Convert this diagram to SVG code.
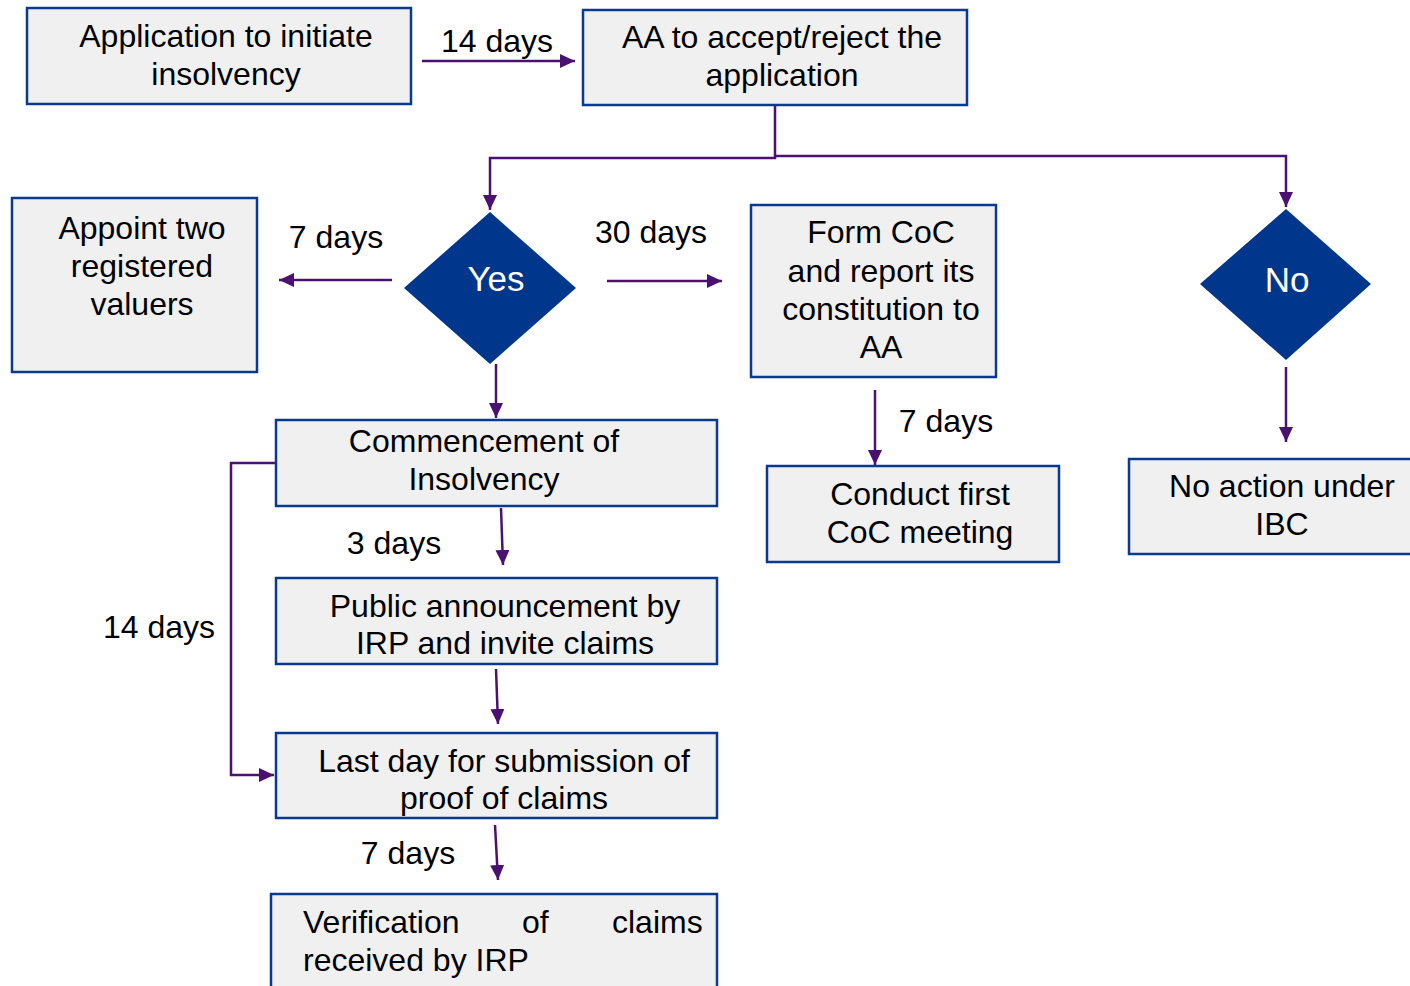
<svg xmlns="http://www.w3.org/2000/svg" width="1410" height="986" viewBox="0 0 1410 986">
<style>
  .box { fill: #f0f0f0; stroke: #0a3a8f; stroke-width: 2.5; }
  .dia { fill: #00368c; stroke: none; }
  .t { font-family: "Liberation Sans", Arial, sans-serif; font-size: 32px; fill: #000; text-anchor: middle; }
  .tl { font-family: "Liberation Sans", Arial, sans-serif; font-size: 32px; fill: #000; }
  .w { font-family: "Liberation Sans", Arial, sans-serif; font-size: 35px; fill: #fff; text-anchor: middle; }
  .c { fill: none; stroke: #4b1172; stroke-width: 2.5; }
</style>
<defs>
  <marker id="ah" markerUnits="userSpaceOnUse" markerWidth="17" markerHeight="15" refX="15" refY="7" orient="auto">
    <path d="M0,0 L15,7 L0,14 z" fill="#4b1172"/>
  </marker>
</defs>
<rect width="1410" height="986" fill="#fff"/>

<g id="connectors">
  <line class="c" x1="422" y1="61" x2="575" y2="61" marker-end="url(#ah)"/>
  <polyline class="c" points="775,106 775,158 490,158 490,210" marker-end="url(#ah)"/>
  <polyline class="c" points="775,156 1286,156 1286,207" marker-end="url(#ah)"/>
  <line class="c" x1="392" y1="280" x2="279" y2="280" marker-end="url(#ah)"/>
  <line class="c" x1="607" y1="281" x2="722" y2="281" marker-end="url(#ah)"/>
  <line class="c" x1="496" y1="364" x2="496" y2="418" marker-end="url(#ah)"/>
  <line class="c" x1="875" y1="390" x2="875" y2="465" marker-end="url(#ah)"/>
  <line class="c" x1="1286" y1="367" x2="1286" y2="442" marker-end="url(#ah)"/>
  <line class="c" x1="501" y1="508" x2="503" y2="565" marker-end="url(#ah)"/>
  <line class="c" x1="496" y1="669" x2="498" y2="724" marker-end="url(#ah)"/>
  <line class="c" x1="495" y1="825" x2="498" y2="880" marker-end="url(#ah)"/>
  <polyline class="c" points="278,463 231,463 231,775 274,775" marker-end="url(#ah)"/>
  <text class="t" x="497" y="52">14 days</text>
  <text class="t" x="336" y="248">7 days</text>
  <text class="t" x="651" y="243">30 days</text>
  <text class="t" x="946" y="432">7 days</text>
  <text class="t" x="394" y="554">3 days</text>
  <text class="t" x="408" y="864">7 days</text>
  <text class="t" x="159" y="638">14 days</text>
</g>

<g id="n-application">
  <rect class="box" x="27" y="8" width="384" height="96"/>
  <text class="t" x="226" y="47">Application to initiate</text>
  <text class="t" x="226" y="85">insolvency</text>
</g>
<g id="n-aa">
  <rect class="box" x="583" y="10" width="384" height="95"/>
  <text class="t" x="782" y="48">AA to accept/reject the</text>
  <text class="t" x="782" y="86">application</text>
</g>
<g id="n-yes">
  <polygon class="dia" points="490,212 576,288 490,364 404,288"/>
  <text class="w" x="496" y="291">Yes</text>
</g>
<g id="n-no">
  <polygon class="dia" points="1286,209 1371,284 1286,360 1200,284"/>
  <text class="w" x="1287" y="292">No</text>
</g>
<g id="n-valuers">
  <rect class="box" x="12" y="198" width="245" height="174"/>
  <text class="t" x="142" y="239">Appoint two</text>
  <text class="t" x="142" y="277">registered</text>
  <text class="t" x="142" y="315">valuers</text>
</g>
<g id="n-formcoc">
  <rect class="box" x="751" y="205" width="245" height="172"/>
  <text class="t" x="881" y="243">Form CoC</text>
  <text class="t" x="881" y="282">and report its</text>
  <text class="t" x="881" y="320">constitution to</text>
  <text class="t" x="881" y="358">AA</text>
</g>
<g id="n-noaction">
  <rect class="box" x="1129" y="459" width="290" height="95"/>
  <text class="t" x="1282" y="497">No action under</text>
  <text class="t" x="1282" y="535">IBC</text>
</g>
<g id="n-conduct">
  <rect class="box" x="767" y="466" width="292" height="96"/>
  <text class="t" x="920" y="505">Conduct first</text>
  <text class="t" x="920" y="543">CoC meeting</text>
</g>
<g id="n-commencement">
  <rect class="box" x="276" y="420" width="441" height="86"/>
  <text class="t" x="484" y="452">Commencement of</text>
  <text class="t" x="484" y="490">Insolvency</text>
</g>
<g id="n-public">
  <rect class="box" x="276" y="578" width="441" height="86"/>
  <text class="t" x="505" y="617">Public announcement by</text>
  <text class="t" x="505" y="654">IRP and invite claims</text>
</g>
<g id="n-lastday">
  <rect class="box" x="276" y="733" width="441" height="85"/>
  <text class="t" x="504" y="772">Last day for submission of</text>
  <text class="t" x="504" y="809">proof of claims</text>
</g>
<g id="n-verification">
  <rect class="box" x="271" y="894" width="446" height="100"/>
  <text class="tl" y="933"><tspan x="303">Verification</tspan><tspan x="522">of</tspan><tspan x="612">claims</tspan></text>
  <text class="tl" x="303" y="971">received by IRP</text>
</g>
</svg>
